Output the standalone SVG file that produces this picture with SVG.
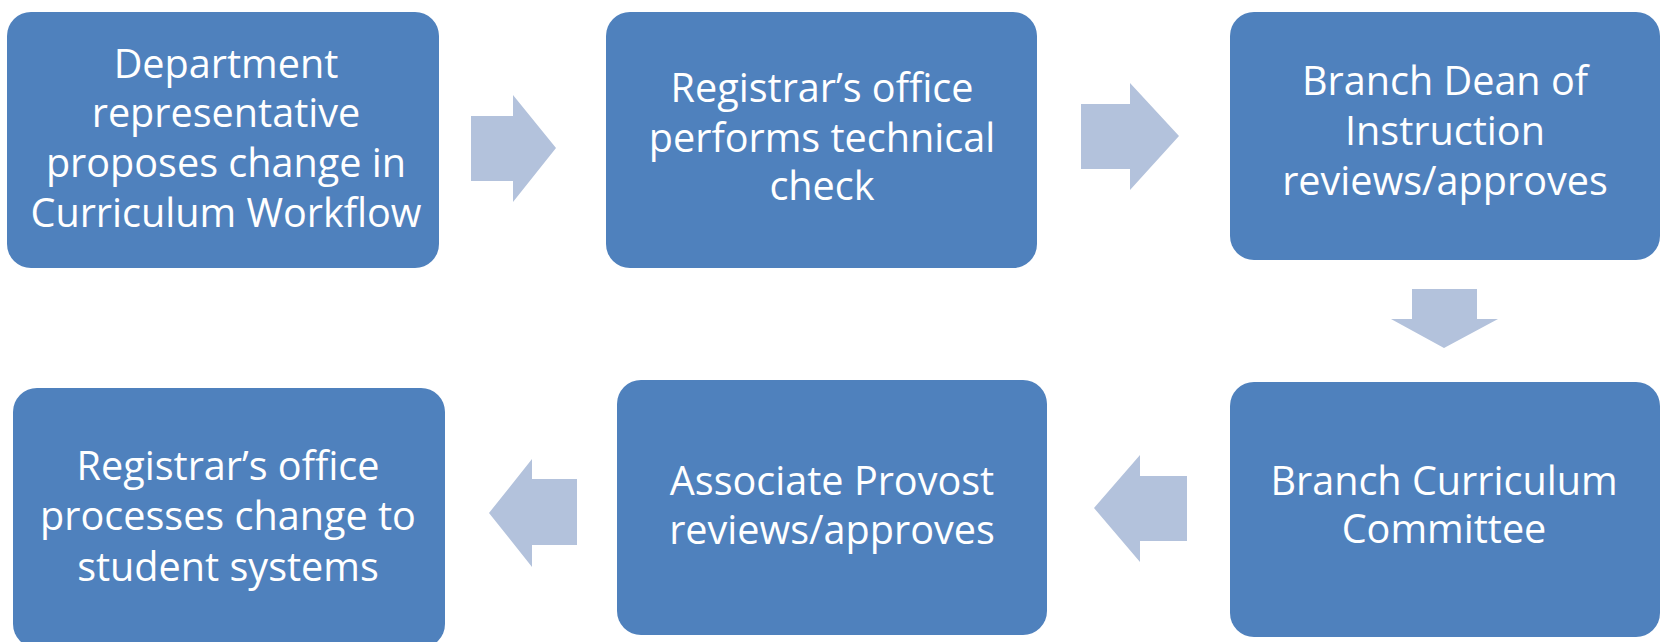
<svg xmlns="http://www.w3.org/2000/svg" width="1664" height="642" viewBox="0 0 1664 642">
<style>
.box{fill:#4F81BD;}
.arr{fill:#B3C2DC;}
.t{font-family:"Open Sans","Noto Sans","Liberation Sans",sans-serif;font-size:39.6px;fill:#FFFFFF;text-anchor:middle;}
</style>
<rect width="1664" height="642" fill="#FFFFFF"/>
<g id="connectors">
<polygon class="arr" points="471,116 513,116 513,95 556,148 513,202 513,181 471,181"/>
<polygon class="arr" points="1081,104 1130,104 1130,83 1179,136 1130,190 1130,169 1081,169"/>
<polygon class="arr" points="1412,289 1477,289 1477,319 1498,319 1444,348 1391,319 1412,319"/>
<polygon class="arr" points="1187,476 1140,476 1140,455 1094,508 1140,562 1140,541 1187,541"/>
<polygon class="arr" points="577,479 532,479 532,459 489,513 532,567 532,545 577,545"/>
</g>
<g id="n1">
<rect class="box" x="7" y="12" width="432" height="256" rx="24"/>
<text class="t" x="226" y="78">Department</text>
<text class="t" x="226" y="127">representative</text>
<text class="t" x="226" y="177">proposes change in</text>
<text class="t" x="226" y="227">Curriculum Workflow</text>
</g>
<g id="n2">
<rect class="box" x="606" y="12" width="431" height="256" rx="24"/>
<text class="t" x="822" y="102">Registrar’s office</text>
<text class="t" x="822" y="152">performs technical</text>
<text class="t" x="822" y="200">check</text>
</g>
<g id="n3">
<rect class="box" x="1230" y="12" width="430" height="248" rx="24"/>
<text class="t" x="1445" y="95">Branch Dean of</text>
<text class="t" x="1445" y="145">Instruction</text>
<text class="t" x="1445" y="195">reviews/approves</text>
</g>
<g id="n4">
<rect class="box" x="1230" y="382" width="430" height="255" rx="24"/>
<text class="t" x="1444" y="495">Branch Curriculum</text>
<text class="t" x="1444" y="543">Committee</text>
</g>
<g id="n5">
<rect class="box" x="617" y="380" width="430" height="255" rx="24"/>
<text class="t" x="832" y="495">Associate Provost</text>
<text class="t" x="832" y="544">reviews/approves</text>
</g>
<g id="n6">
<rect class="box" x="13" y="388" width="432" height="260" rx="24"/>
<text class="t" x="228" y="480">Registrar’s office</text>
<text class="t" x="228" y="530">processes change to</text>
<text class="t" x="228" y="581">student systems</text>
</g>
</svg>
